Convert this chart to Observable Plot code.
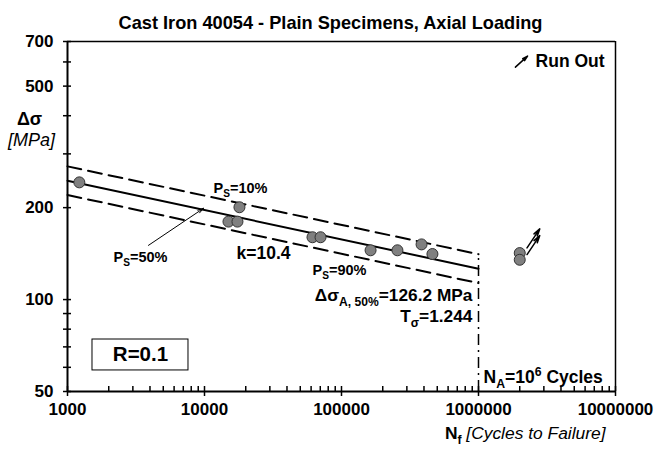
<!DOCTYPE html>
<html><head><meta charset="utf-8">
<script src="https://cdn.jsdelivr.net/npm/d3@7"></script>
<script src="https://cdn.jsdelivr.net/npm/@observablehq/plot@0.6"></script>
<style>body{margin:0;background:#fff} svg{font-family:"Liberation Sans",Arial,sans-serif}</style>
</head><body><div id="chart"></div>
<script>
// failures
const failN = [1220, 14960, 17400, 17990, 61400, 70300, 163000, 256000, 384000, 461000];
const failS = [242, 180, 180, 200.6, 160, 160, 145, 145, 151.6, 141];
// run outs
const runN = [2000000, 2000000];
const runS = [142, 135];
// scatter band lines (N from 1e3 to 1e6)
const lineN = [1000, 1000000];
const s50 = [245, 126.2];
const s10 = [273, 140.8];
const s90 = [220, 113.2];
// axis ticks
const yTicks = [50, 60, 70, 80, 90, 100, 200, 300, 400, 500, 600, 700];
const yLabels = [50, 100, 200, 500, 700];
const xLabels = [1000, 10000, 100000, 1000000, 10000000];
const xMinor = xLabels.slice(0, -1).flatMap(d => [2,3,4,5,6,7,8,9].map(m => m * d));
// annotations
const noteText = ["P_{S}=10%", "P_{S}=50%", "k=10.4", "P_{S}=90%", "Δσ_{A, 50%}=126.2 MPa", "T_{σ}=1.244", "N_{A}=10^{6} Cycles", "Run Out", "R=0.1"];
const noteN = [11650, 2167, 17140, 61400, 903000, 903000, 1088000, 2610000, 3410];
const noteS = [231.6, 137.5, 141.7, 124.6, 103.3, 88.1, 55.6, 603.8, 65.9];
const boxN = [1522, 7640];
const boxS = [58.6, 74];
const ps50Arrow = {x1: 3899, y1: 150.5, x2: 9840, y2: 199};
const runLegendArrow = {x1: 1860000, y1: 577, x2: 2280000, y2: 627};
const NA = 1000000;

const fails = failN.map((n, i) => ({n, s: failS[i]}));
const runs = runN.map((n, i) => ({n, s: runS[i]}));
const mkLine = (arr) => lineN.map((n, i) => ({n, s: arr[i]}));

function note(i, anchor, size) {
  return Plot.text([i], {x: d => noteN[d], y: d => noteS[d], text: d => noteText[d],
    textAnchor: anchor, fontSize: size, fontWeight: "bold", fill: "black"});
}

const plot = Plot.plot({
  width: 657, height: 458,
  marginLeft: 67, marginRight: 42, marginTop: 41, marginBottom: 67,
  style: {fontFamily: "'Liberation Sans', Arial, sans-serif", background: "white", color: "black", overflow: "visible"},
  x: {type: "log", domain: [1000, 10000000]},
  y: {type: "log", domain: [50, 700]},
  marks: [
    // frame
    Plot.ruleY([700], {stroke: "black", strokeWidth: 1.5}),
    Plot.ruleX([10000000], {stroke: "black", strokeWidth: 1.5}),
    // NA vertical
    Plot.ruleX([NA], {y1: 50, y2: s10[1], stroke: "black", strokeWidth: 1.5, strokeDasharray: "11,5,2,5"}),
    // band lines
    Plot.line(mkLine(s10), {x: "n", y: "s", stroke: "black", strokeWidth: 2, strokeDasharray: "14,7"}),
    Plot.line(mkLine(s90), {x: "n", y: "s", stroke: "black", strokeWidth: 2, strokeDasharray: "14,7"}),
    Plot.line(mkLine(s50), {x: "n", y: "s", stroke: "black", strokeWidth: 2}),
    // R box
    Plot.rect([0], {x1: boxN[0], x2: boxN[1], y1: boxS[0], y2: boxS[1], fill: "white", stroke: "black", strokeWidth: 1}),
    // data
    Plot.dot(fails, {x: "n", y: "s", r: 5.5, fill: "#808080", stroke: "#333", strokeWidth: 1}),
    Plot.dot(runs, {x: "n", y: "s", r: 5.5, fill: "#808080", stroke: "#333", strokeWidth: 1}),
    Plot.arrow(runs, {x1: d => d.n * 1.13, y1: d => d.s * 1.04, x2: d => d.n * 1.4, y2: d => d.s * 1.2,
      stroke: "black", strokeWidth: 1.5, headLength: 9, headAngle: 30}),
    Plot.arrow([ps50Arrow], {x1: "x1", y1: "y1", x2: "x2", y2: "y2", stroke: "black", strokeWidth: 1, headLength: 9, headAngle: 30}),
    Plot.arrow([runLegendArrow], {x1: "x1", y1: "y1", x2: "x2", y2: "y2", stroke: "black", strokeWidth: 1.5, headLength: 8, headAngle: 30}),
    // axes lines
    Plot.ruleY([50], {stroke: "black", strokeWidth: 2}),
    Plot.ruleX([1000], {stroke: "black", strokeWidth: 2}),
    // ticks
    Plot.ruleY(yTicks, {y: d => d, x1: 1000, x2: 1000, insetLeft: -4, insetRight: -4, stroke: "black", strokeWidth: 1.5}),
    Plot.ruleX(xLabels, {x: d => d, y1: 50, y2: 50, insetTop: -5, insetBottom: -5, stroke: "black", strokeWidth: 1.5}),
    Plot.ruleX(xMinor, {x: d => d, y1: 50, y2: 50, insetTop: -5, insetBottom: 0, stroke: "black", strokeWidth: 1.5}),
    Plot.axisX({ticks: xLabels, tickSize: 0, tickPadding: 11, tickFormat: d => String(d), fontSize: 17, fontWeight: "bold", label: null}),
    Plot.axisY({ticks: yLabels, tickSize: 0, tickPadding: 14, tickFormat: d => String(d), fontSize: 17, fontWeight: "bold", label: null}),
    // annotations
    note(0, "start", 14.5),
    note(1, "start", 14.5),
    note(2, "start", 17.5),
    note(3, "start", 14.5),
    note(4, "end", 17.3),
    note(5, "end", 17.3),
    note(6, "start", 17.5),
    note(7, "start", 17.5),
    note(8, "middle", 20.5),
    // titles and axis labels
    Plot.text(["Cast Iron 40054 - Plain Specimens, Axial Loading"], {frameAnchor: "top", dx: -11, dy: -25, fontSize: 18.2, fontWeight: "bold"}),
    Plot.text(["Δσ"], {frameAnchor: "top-left", dx: -38, dy: 71, fontSize: 18, fontWeight: "bold", textAnchor: "middle"}),
    Plot.text(["[MPa]"], {frameAnchor: "top-left", dx: -36, dy: 92, fontSize: 18, fontStyle: "italic", textAnchor: "middle"}),
    Plot.text(["N_{f}~{ [Cycles to Failure]}"], {frameAnchor: "bottom-right", dx: -10, dy: 47, fontSize: 17.4, fontWeight: "bold", textAnchor: "end"})
  ]
});
document.getElementById("chart").appendChild(plot);

// rich text: subscripts, superscripts, italic spans
d3.select(plot).selectAll("text").each(function() {
  const el = this;
  if (el.querySelector("tspan")) return;
  const s = el.textContent;
  if (!/[_^~]\{/.test(s)) return;
  const fs = parseFloat(getComputedStyle(el).fontSize) || 14;
  el.textContent = "";
  const parts = s.split(/([_^~]\{[^}]*\})/).filter(p => p);
  let shift = 0;
  for (const p of parts) {
    const t = document.createElementNS("http://www.w3.org/2000/svg", "tspan");
    let target = 0, txt = p;
    if (p.startsWith("_{")) { target = 0.3 * fs; txt = p.slice(2, -1); t.setAttribute("font-size", 0.7 * fs); }
    else if (p.startsWith("^{")) { target = -0.4 * fs; txt = p.slice(2, -1); t.setAttribute("font-size", 0.7 * fs); }
    else if (p.startsWith("~{")) { txt = p.slice(2, -1); t.setAttribute("font-style", "italic"); t.setAttribute("font-weight", "normal"); }
    t.setAttribute("dy", target - shift);
    shift = target;
    t.textContent = txt;
    el.appendChild(t);
  }
});
</script>
</body></html>
